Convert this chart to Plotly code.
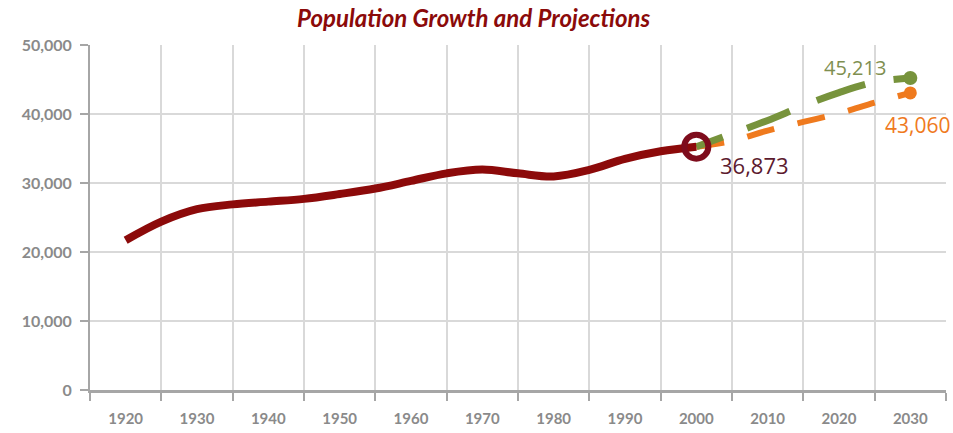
import plotly.graph_objects as go

# ---- data ----
hist_years = [1920, 1925, 1930, 1935, 1940, 1945, 1950, 1955, 1960, 1965,
              1970, 1975, 1980, 1985, 1990, 1995, 2000]
hist_pop = [21700, 24400, 26200, 26900, 27300, 27700, 28400, 29200, 30300, 31400,
            31950, 31400, 30950, 31900, 33500, 34600, 35260]

proj_years = [2000, 2005, 2010, 2015, 2020, 2025, 2030]
proj_high = [35260, 37150, 39070, 41200, 43100, 44600, 45213]
proj_low = [35260, 36100, 37600, 38850, 40100, 41650, 43060]

tick_years = [1920, 1930, 1940, 1950, 1960, 1970, 1980, 1990, 2000, 2010, 2020, 2030]
grid_years = [1915, 1925, 1935, 1945, 1955, 1965, 1975, 1985, 1995, 2005, 2015, 2025, 2035]
y_ticks = [0, 10000, 20000, 30000, 40000, 50000]
y_labels = ["0", "10,000", "20,000", "30,000", "40,000", "50,000"]

label_base = "36,873"
label_high = "45,213"
label_low = "43,060"

RED = "#8C0A0A"
GREEN = "#77933C"
ORANGE = "#EF7A1E"
GRID = "#D9D9D9"
AXIS = "#A6A6A6"
TICKTXT = "#8A8A8A"

fig = go.Figure()

fig.add_trace(go.Scatter(
    x=proj_years, y=proj_low, mode="lines",
    line=dict(color=ORANGE, width=6, dash="28px,24px", shape="spline"),
    hoverinfo="skip", showlegend=False))
fig.add_trace(go.Scatter(
    x=proj_years[-1:], y=proj_low[-1:], mode="markers",
    marker=dict(symbol="circle", size=13, color=ORANGE),
    hoverinfo="skip", showlegend=False))

fig.add_trace(go.Scatter(
    x=proj_years, y=proj_high, mode="lines",
    line=dict(color=GREEN, width=7, dash="28px,26px,46px,29px,51px,29px,40px",
              shape="spline"),
    hoverinfo="skip", showlegend=False))
fig.add_trace(go.Scatter(
    x=proj_years[-1:], y=proj_high[-1:], mode="markers",
    marker=dict(symbol="circle", size=14, color=GREEN),
    hoverinfo="skip", showlegend=False))

fig.add_trace(go.Scatter(
    x=hist_years, y=hist_pop, mode="lines",
    line=dict(color=RED, width=8, shape="spline", smoothing=1.0),
    hoverinfo="skip", showlegend=False))

fig.add_trace(go.Scatter(
    x=[hist_years[-1]], y=[hist_pop[-1]], mode="markers",
    marker=dict(symbol="circle-open", size=24, color="#7E0C1C",
                line=dict(width=6, color="#7E0C1C")),
    hoverinfo="skip", showlegend=False))

fig.add_annotation(x=hist_years[-1], y=hist_pop[-1], text=label_base,
                   xref="x", yref="y", showarrow=False,
                   xshift=58, yshift=-18,
                   font=dict(family="Open Sans", size=22, color="#5C1A2E"))
fig.add_annotation(x=proj_years[-2], y=proj_high[-1], text=label_high,
                   xref="x", yref="y", showarrow=False,
                   xshift=-20, yshift=11,
                   font=dict(family="Open Sans", size=20, color="#7F8F50"))
fig.add_annotation(x=proj_years[-1], y=proj_low[-1], text=label_low,
                   xref="x", yref="y", showarrow=False, xanchor="left",
                   xshift=-27, yshift=-32,
                   font=dict(family="Open Sans", size=21, color=ORANGE))

fig.update_layout(
    width=953, height=433,
    margin=dict(l=90, r=7, t=45, b=43),
    paper_bgcolor="white", plot_bgcolor="white",
    title=dict(text="<b><i>Population Growth and Projections</i></b>",
               x=0.497, xanchor="center", y=0.957, yanchor="middle",
               font=dict(family="Lato", size=24, color="#8B0A0A")),
    xaxis=dict(range=[1915, 2035], tickvals=tick_years, automargin=False,
               ticktext=[str(v) for v in tick_years],
               showgrid=False, zeroline=False,
               showline=True, linecolor=AXIS, linewidth=3,
               ticks="", ticklabelstandoff=13,
               tickfont=dict(family="Lato", size=15, color=TICKTXT, weight="bold"),
               minor=dict(tickvals=grid_years, showgrid=True, gridcolor=GRID,
                          gridwidth=1.5, ticks="outside", ticklen=8,
                          tickwidth=2, tickcolor=AXIS)),
    yaxis=dict(range=[0, 50000], tickvals=y_ticks, ticktext=y_labels, automargin=False,
               showgrid=True, gridcolor=GRID, gridwidth=1.5, zeroline=False,
               showline=True, linecolor=AXIS, linewidth=2,
               ticks="outside", ticklen=8, tickwidth=2, tickcolor=AXIS,
               ticklabelstandoff=5,
               tickfont=dict(family="Lato", size=16, color=TICKTXT, weight="bold")),
)

# remove the page's default 8px body margin so the figure fills the window
fig.write_html("out.html", config={"displayModeBar": False},
               post_script="document.body.style.margin='0';")
